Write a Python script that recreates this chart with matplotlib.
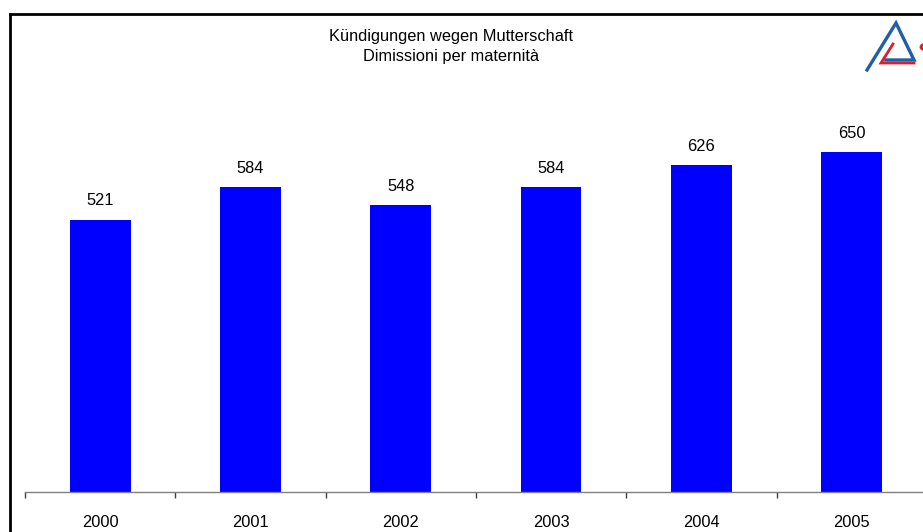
import matplotlib.pyplot as plt
from matplotlib.lines import Line2D
from matplotlib.patches import Circle

years = ['2000', '2001', '2002', '2003', '2004', '2005']
dismissals = [521, 584, 548, 584, 626, 650]

title_de = 'Kündigungen wegen Mutterschaft'
title_it = 'Dimissioni per maternità'

W, H = 923, 532
plt.rcParams['font.family'] = ['Liberation Sans', 'DejaVu Sans']

fig = plt.figure(figsize=(W / 100, H / 100), dpi=100)
fig.patch.set_facecolor('white')

# plot area: x from 25px, 150.3px per category; baseline at y=492
step = 150.3
ax = fig.add_axes([25 / W, 40 / H, 6 * step / W, 366 / H])
x = list(range(len(years)))
ax.bar(x, dismissals, width=0.405, color='#0000ff', zorder=2)
ax.set_xlim(-0.5, 5.5)
ax.set_ylim(0, 700)

for xi, v in zip(x, dismissals):
    ax.annotate(str(v), (xi, v), xytext=(0, 8), textcoords='offset points',
                ha='center', va='bottom', fontsize=11.8, color='black')

for s in ['top', 'right', 'left']:
    ax.spines[s].set_visible(False)
ax.spines['bottom'].set_color('#808080')
ax.spines['bottom'].set_linewidth(1.0)
ax.set_yticks([])
ax.set_xticks(x)
ax.set_xticklabels(years, fontsize=11.8)
ax.set_xticks([i - 0.5 for i in range(len(years) + 1)], minor=True)
ax.tick_params(axis='x', which='major', length=0, pad=16.5)
ax.tick_params(axis='x', which='minor', length=4.5, width=1, color='#404040', direction='out')
ax.patch.set_alpha(0)

# titles
fig.text(451 / W, 1 - 37 / H, title_de, ha='center', va='center', fontsize=11.8)
fig.text(451 / W, 1 - 57 / H, title_it, ha='center', va='center', fontsize=11.8)

# outer frame (top and left edges visible)
fig.add_artist(Line2D([10 / W, 1.01], [1 - 14 / H, 1 - 14 / H], transform=fig.transFigure,
                      color='black', lw=2))
fig.add_artist(Line2D([10 / W, 10 / W], [1 - 14 / H, -0.01], transform=fig.transFigure,
                      color='black', lw=2))


# small logo in the top right corner (pixel coords -> figure fraction)
def logo_line(pts, color, lw):
    xs = [p[0] / W for p in pts]
    ys = [1 - p[1] / H for p in pts]
    fig.add_artist(Line2D(xs, ys, transform=fig.transFigure, color=color, lw=lw,
                          solid_joinstyle='miter'))


logo_line([(867, 70), (896, 23), (914, 60), (886, 60)], '#1f5fa8', 2.4)
logo_line([(893, 44), (881, 63), (914, 63)], '#d8202a', 2.0)
fig.add_artist(Circle((926 / W, 1 - 47 / H), 5 / W, transform=fig.transFigure, fill=False,
                      edgecolor='#d8202a', lw=2))

fig.savefig('out.png', dpi=100, facecolor='white')
